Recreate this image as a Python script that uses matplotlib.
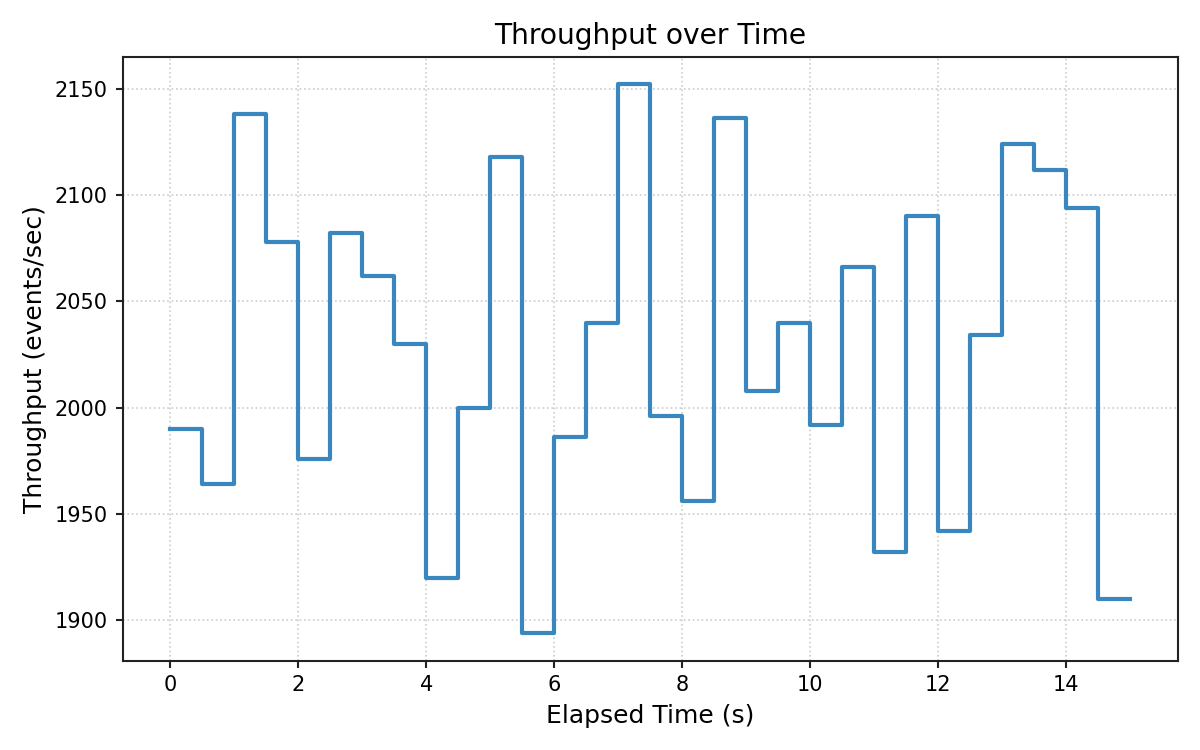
import matplotlib
matplotlib.use("Agg")
import matplotlib.pyplot as plt
import numpy as np

# elapsed time samples (s) and throughput per 0.5 s window
elapsed = np.arange(0, 15.5, 0.5)
throughput = [1990, 1964, 2138, 2078, 1976, 2082, 2062, 2030, 1920, 2000,
              2118, 1894, 1986, 2040, 2152, 1996, 1956, 2136, 2008, 2040,
              1992, 2066, 1932, 2090, 1942, 2034, 2124, 2112, 2094, 1910,
              1910]

fig, ax = plt.subplots(figsize=(8, 5), dpi=150)
ax.step(elapsed, throughput, where='post', color='#3a87c0', linewidth=2)

ax.set_title("Throughput over Time", fontsize=13.5)
ax.set_xlabel("Elapsed Time (s)", fontsize=12)
ax.set_ylabel("Throughput (events/sec)", fontsize=12)
ax.tick_params(labelsize=10, color='#222222', width=1)
for s in ax.spines.values():
    s.set_color('#222222')
    s.set_linewidth(1)
ax.grid(True, linestyle=':', color='#cccccc', linewidth=0.8)

plt.tight_layout()
plt.savefig("out.png", dpi=150)
